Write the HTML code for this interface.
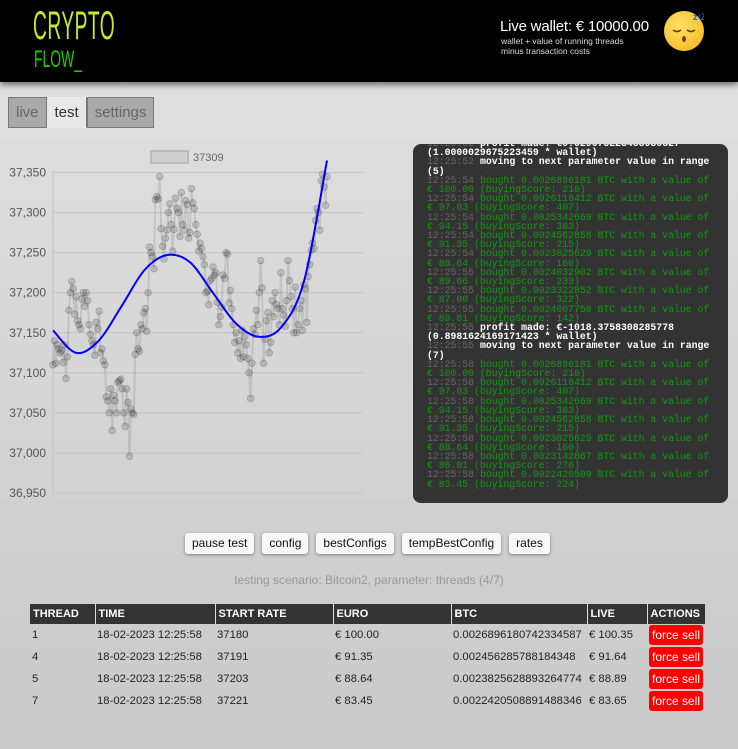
<!DOCTYPE html>
<html><head><meta charset="utf-8"><style>
*{box-sizing:border-box;margin:0;padding:0}
body{width:738px;height:749px;overflow:hidden;font-family:"Liberation Sans",sans-serif;background:linear-gradient(#e2e2e2,#c9c9c9);position:relative}
#hdr{position:absolute;left:0;top:0;width:738px;height:82px;background:#000;box-shadow:0 3px 6px rgba(0,0,0,.5)}
.logo1{position:absolute;left:33px;top:4px;font-size:40px;color:#c6e82c;transform:scaleX(.48);transform-origin:left top;letter-spacing:1px;font-weight:normal;line-height:44px}
.logo2{position:absolute;left:34px;top:47px;font-size:24px;color:#1fcc00;transform:scaleX(.58);transform-origin:left top;line-height:26px}
.wal{position:absolute;left:500px;top:18px;color:#fff;font-size:15px;letter-spacing:-0.2px}
.wsub{position:absolute;left:501px;top:36px;color:#ddd;font-size:8.5px;line-height:10px}
.emoji{position:absolute;left:664px;top:11px;width:40px;height:40px;border-radius:50%;background:radial-gradient(circle at 40% 35%,#ffe066,#f6b21a)}
.tabs{position:absolute;left:8px;top:97px;display:flex}
.tab{height:31px;border:1px solid #777;background:#a9a9a9;color:#666;font-size:15px;line-height:29px;padding:0 7px}
.tab.on{background:#e8e8e8;color:#333;border-color:#e8e8e8;border-right-color:#777}
#log{position:absolute;left:413px;top:144px;width:315px;height:359px;background:#333;border-radius:8px;overflow:hidden}
#logi{position:absolute;left:14px;top:-5px;width:286px;font-family:"Liberation Mono",monospace;font-size:9.8px;line-height:9.2px;white-space:pre-wrap;word-break:normal}
.t{color:#666}.w{color:#fff;font-weight:bold}.g{color:#119911}
.btns{position:absolute;left:185px;top:533px;display:flex;gap:8px}
.btn{height:21px;background:#f7f7f7;border-radius:3px;box-shadow:0 1px 3px rgba(0,0,0,.4);font-size:12px;line-height:21px;padding:0 7px;color:#111}
.scen{position:absolute;left:0;width:738px;top:573px;text-align:center;color:#999;font-size:12px}
table{position:absolute;left:30px;top:604px;width:675px;table-layout:fixed;border-collapse:collapse;font-size:11.3px;color:#222;white-space:nowrap}
th{background:#333;color:#fff;text-align:left;height:20px;padding:0 3px;border-right:1px solid #ddd;font-size:11px;overflow:hidden}
td{height:22px;padding:0 2px;overflow:visible}
.fs{background:#f00;color:#fff;border-radius:3px;padding:3px 3px;font-size:12px;display:inline-block}
</style></head><body>
<div id="hdr">
<div class="logo1">CRYPTO</div>
<div class="logo2">FLOW_</div>
<div class="wal">Live wallet: € 10000.00</div>
<div class="wsub">wallet + value of running threads<br>minus transaction costs</div>
<div class="emoji"><svg width="40" height="40"><path d="M9 19q4 3 8 0M23 19q4 3 8 0" stroke="#6b3a00" stroke-width="1.6" fill="none"/><ellipse cx="20" cy="28" rx="2" ry="3" fill="#7a3a00"/><text x="29" y="9" font-size="9" fill="#2255cc" font-weight="bold">zᶻZ</text></svg></div>
</div>
<div class="tabs">
<div class="tab">live</div>
<div class="tab on">test</div>
<div class="tab">settings</div>
</div>
<svg id="chart" width="380" height="370" style="position:absolute;left:0;top:140px"></svg>
<div id="log"><div id="logi"><span class="t">12:25:52</span> <span class="w">profit made: €0.029675223458980327 (1.0000029675223459 * wallet)</span>
<span class="t">12:25:52</span> <span class="w">moving to next parameter value in range (5)</span>
<span class="t">12:25:54</span> <span class="g">bought 0.0026896181 BTC with a value of € 100.00 (buyingScore: 210)</span>
<span class="t">12:25:54</span> <span class="g">bought 0.0026118412 BTC with a value of € 97.03 (buyingScore: 407)</span>
<span class="t">12:25:54</span> <span class="g">bought 0.0025342669 BTC with a value of € 94.15 (buyingScore: 363)</span>
<span class="t">12:25:54</span> <span class="g">bought 0.0024562858 BTC with a value of € 91.35 (buyingScore: 215)</span>
<span class="t">12:25:54</span> <span class="g">bought 0.0023825629 BTC with a value of € 88.64 (buyingScore: 160)</span>
<span class="t">12:25:55</span> <span class="g">bought 0.0024032902 BTC with a value of € 89.66 (buyingScore: 233)</span>
<span class="t">12:25:55</span> <span class="g">bought 0.0023322852 BTC with a value of € 87.00 (buyingScore: 322)</span>
<span class="t">12:25:55</span> <span class="g">bought 0.0024007750 BTC with a value of € 89.81 (buyingScore: 142)</span>
<span class="t">12:25:55</span> <span class="w">profit made: €-1018.3758308285778 (0.8981624169171423 * wallet)</span>
<span class="t">12:25:55</span> <span class="w">moving to next parameter value in range (7)</span>
<span class="t">12:25:58</span> <span class="g">bought 0.0026896181 BTC with a value of € 100.00 (buyingScore: 210)</span>
<span class="t">12:25:58</span> <span class="g">bought 0.0026118412 BTC with a value of € 97.03 (buyingScore: 407)</span>
<span class="t">12:25:58</span> <span class="g">bought 0.0025342669 BTC with a value of € 94.15 (buyingScore: 363)</span>
<span class="t">12:25:58</span> <span class="g">bought 0.0024562858 BTC with a value of € 91.35 (buyingScore: 215)</span>
<span class="t">12:25:58</span> <span class="g">bought 0.0023825629 BTC with a value of € 88.64 (buyingScore: 160)</span>
<span class="t">12:25:58</span> <span class="g">bought 0.0023142867 BTC with a value of € 86.01 (buyingScore: 276)</span>
<span class="t">12:25:58</span> <span class="g">bought 0.0022420509 BTC with a value of € 83.45 (buyingScore: 224)</span></div></div>
<div class="btns">
<div class="btn">pause test</div>
<div class="btn">config</div>
<div class="btn">bestConfigs</div>
<div class="btn">tempBestConfig</div>
<div class="btn">rates</div>
</div>
<div class="scen">testing scenario: Bitcoin2, parameter: threads (4/7)</div>
<table>
<colgroup><col style="width:65px"><col style="width:120px"><col style="width:118px"><col style="width:118px"><col style="width:136px"><col style="width:60px"><col style="width:58px"></colgroup>
<tr><th>THREAD</th><th>TIME</th><th>START RATE</th><th>EURO</th><th>BTC</th><th>LIVE</th><th style="border-right:none">ACTIONS</th></tr>
<tr><td>1</td><td>18-02-2023 12:25:58</td><td>37180</td><td>€ 100.00</td><td>0.0026896180742334587</td><td>€ 100.35</td><td><span class="fs">force sell</span></td></tr>
<tr><td>4</td><td>18-02-2023 12:25:58</td><td>37191</td><td>€ 91.35</td><td>0.002456285788184348</td><td>€ 91.64</td><td><span class="fs">force sell</span></td></tr>
<tr><td>5</td><td>18-02-2023 12:25:58</td><td>37203</td><td>€ 88.64</td><td>0.0023825628893264774</td><td>€ 88.89</td><td><span class="fs">force sell</span></td></tr>
<tr><td>7</td><td>18-02-2023 12:25:58</td><td>37221</td><td>€ 83.45</td><td>0.0022420508891488346</td><td>€ 83.65</td><td><span class="fs">force sell</span></td></tr>
</table>
<script>
const yTicks=[36950,37000,37050,37100,37150,37200,37250,37300,37350];
const rates=[37110,37140,37112,37135,37130,37125,37128,37113,37135,37093,37120,
37178,37200,37214,37205,37173,37195,37165,37160,37155,37192,37200,37183,37200,37190,
37160,37148,37140,37135,37122,37163,37155,37177,37125,37130,37115,37110,37070,37065,37050,37080,37028,
37072,37065,37050,37088,37090,37092,37080,37050,37033,37080,37063,36996,37055,37050,37048,
37123,37150,37130,37127,37160,37155,37175,37180,37152,37200,37257,37250,37245,37230,37316,37320,37317,37345,
37280,37258,37242,37268,37278,37300,37311,37285,37252,37279,37318,37305,37300,37270,37325,37285,37278,37315,37310,
37268,37275,37330,37312,37305,37285,37273,37252,37262,37255,37245,37235,37200,
37202,37185,37215,37218,37232,37222,37225,37188,37160,37170,37182,37222,37218,37250,37248,37187,37203,
37180,37160,37138,37150,37125,37140,37118,37153,37120,37145,37135,37118,37100,37068,37112,37155,37148,37178,
37160,37200,37240,37206,37112,37142,37165,37175,37125,37138,37190,37170,37200,37185,37180,37160,37225,
37180,37172,37158,37190,37240,37215,37195,37180,37150,37207,37150,37160,37180,37190,37153,37210,
37205,37163,37220,37235,37253,37262,37255,37290,37305,37300,37278,37340,37348,37332,37309,37345];
const trend=[37153,37125,37140,37183,37228,37247,37238,37200,37162,37145,37157,37215,37365];
const legendLabel="37309";
const svg=document.getElementById('chart');const NS='http://www.w3.org/2000/svg';
const X0=53,X1=363,XD1=327,OY=140;
const y=v=>172.5-OY+(37350-v)*(320.5/400);
const xi=i=>X0+i*(XD1-X0)/(rates.length-1);
const xt=i=>X0+i*(XD1-X0)/(trend.length-1);
function mk(t,a){const e=document.createElementNS(NS,t);for(const k in a)e.setAttribute(k,a[k]);svg.appendChild(e);return e;}
yTicks.forEach(v=>{const g=mk('line',{x1:X0,x2:X1,y1:y(v),y2:y(v),stroke:'#c2c2c2','stroke-width':1});


const t=mk('text',{x:46,y:y(v)+4,'text-anchor':'end','font-size':12,fill:'#555','font-family':'Liberation Sans'});t.textContent=v.toLocaleString('en-US');

});
const ax=mk('line',{x1:X0,x2:X0,y1:y(37350)-2,y2:y(36950)+5,stroke:'#c2c2c2'});


const lb=mk('rect',{x:151,y:11,width:37,height:12,fill:'#cfcfcf',stroke:'#bbb','stroke-width':2});


const lt=mk('text',{x:193,y:21,'font-size':11,fill:'#666','font-family':'Liberation Sans'});lt.textContent=legendLabel;


const pl=mk('polyline',{points:rates.map((v,i)=>xi(i)+','+y(v)).join(' '),fill:'none',stroke:'rgba(0,0,0,0.1)','stroke-width':2});


rates.forEach((v,i)=>{const c=mk('circle',{cx:xi(i),cy:y(v),r:3.3,fill:'rgba(0,0,0,0.13)',stroke:'rgba(0,0,0,0.18)','stroke-width':1});

});
let d='M'+xt(0)+','+y(trend[0]);
for(let i=0;i<trend.length-1;i++){const p0=i?i-1:0,p3=Math.min(i+2,trend.length-1);
const c1x=xt(i)+(xt(i+1)-xt(p0))/6,c1y=y(trend[i])+(y(trend[i+1])-y(trend[p0]))/6;
const c2x=xt(i+1)-(xt(p3)-xt(i))/6,c2y=y(trend[i+1])-(y(trend[p3])-y(trend[i]))/6;
d+=` C${c1x},${c1y} ${c2x},${c2y} ${xt(i+1)},${y(trend[i+1])}`;}
const tp=mk('path',{d:d,fill:'none',stroke:'#0000ff','stroke-width':2});


</script>
</body></html>
